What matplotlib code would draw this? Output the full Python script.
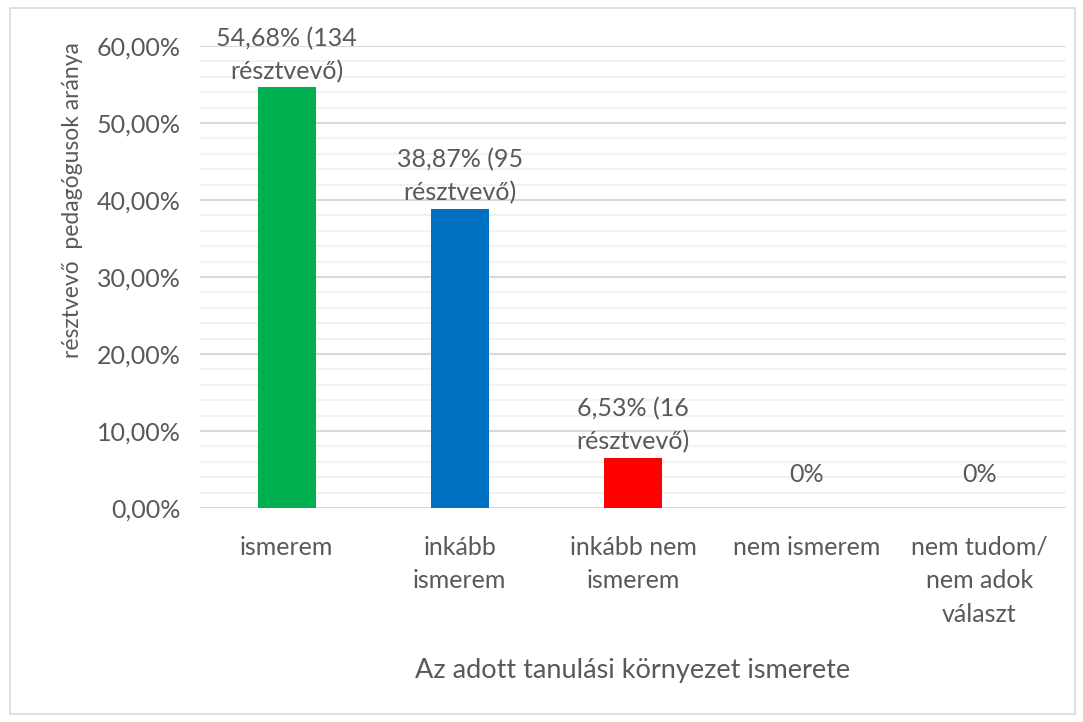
import numpy as np
import matplotlib.pyplot as plt
from matplotlib.patches import Rectangle

categories = ["ismerem", "inkább\nismerem", "inkább nem\nismerem", "nem ismerem",
              "nem tudom/\nnem adok\nválaszt"]
values = [54.68, 38.87, 6.53, 0, 0]
counts = [134, 95, 16, 0, 0]
bar_colors = ["#00B050", "#0070C0", "#FF0000", "#FF0000", "#FF0000"]
y_ticks = [0, 10, 20, 30, 40, 50, 60]
y_tick_labels = ["0,00%", "10,00%", "20,00%", "30,00%", "40,00%", "50,00%", "60,00%"]

plt.rcParams['font.family'] = ['Lato', 'DejaVu Sans']
grey = "#595959"
fs = 18

fig = plt.figure(figsize=(10.83, 7.22), dpi=100)
fig.patches.append(Rectangle((10 / 1083, 8 / 722), 1065 / 1083, 706 / 722,
                             transform=fig.transFigure, fill=False,
                             edgecolor="#D9D9D9", linewidth=1.2))
ax = fig.add_axes([200 / 1083, 214 / 722, 866 / 1083, 462 / 722])

x = np.arange(len(categories))
ax.bar(x, values, width=0.335, color=bar_colors, zorder=3)

ax.set_xlim(-0.5, len(categories) - 0.5)
ax.set_ylim(0, 60)
ax.set_yticks(y_ticks)
ax.set_yticklabels(y_tick_labels)
ax.set_yticks(np.arange(0, 61, 2), minor=True)
ax.grid(axis="y", which="minor", color="#F2F2F2", linewidth=1.5, zorder=0)
ax.grid(axis="y", which="major", color="#D9D9D9", linewidth=1.5, zorder=1)
ax.set_xticks(x)
ax.set_xticklabels(categories, linespacing=1.55)
ax.tick_params(axis="y", which="both", length=0, pad=14, labelsize=fs, labelcolor=grey)
ax.tick_params(axis="x", length=0, pad=20, labelsize=fs, labelcolor=grey)
for s in ax.spines.values():
    s.set_visible(False)

for xi, v, n in zip(x, values, counts):
    if v > 0:
        lbl = f"{v:.2f}".replace(".", ",") + f"% ({n}\nrésztvevő)"
        ax.annotate(lbl, (xi, v), xytext=(0, 3), textcoords="offset points",
                    ha="center", va="bottom", fontsize=fs, color=grey,
                    linespacing=1.5)
    else:
        ax.annotate("0%", (xi, v), xytext=(0, 24), textcoords="offset points",
                    ha="center", va="center", fontsize=fs, color=grey)

ax.set_ylabel("résztvevő  pedagógusok aránya", fontsize=16.5, color=grey)
ax.yaxis.set_label_coords(-0.135, 0.667)
ax.set_xlabel("Az adott tanulási környezet ismerete", fontsize=19.5, color=grey)
ax.xaxis.set_label_coords(0.5, -0.325)

fig.savefig("out.png", dpi=100)
